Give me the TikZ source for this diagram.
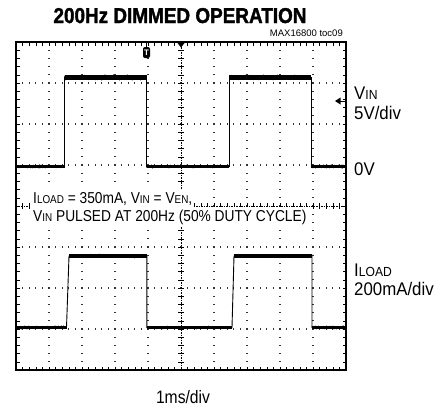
\documentclass[tikz,border=0pt]{standalone}
\usepackage{fontspec}
\setmainfont{Liberation Sans}[FakeStretch=0.87]
\newfontfamily\titlefont{Liberation Sans}[FakeStretch=0.88, BoldFeatures={FakeBold=1.5}]
\newfontfamily\lblfont{Liberation Sans}[FakeStretch=0.92]
\newfontfamily\plainfont{Liberation Sans}
\makeatletter
\newcommand\sm[1]{{\fontsize{\the\dimexpr\f@size pt*72/100\relax}{0pt}\selectfont#1}}
\makeatother
\newcommand\noisyseg[5]{%
  \draw[line width=#4] (#1,#3) -- (#2,#3);
  \draw[line width=0.7] plot[domain=#1:#2, samples=70] (\x,{#3+#5*rand});}
\begin{document}
\begin{tikzpicture}[x=1pt,y=-1pt,
  boxtxt/.style={anchor=base west, fill=white, inner xsep=2pt, inner ysep=2.5pt, font=\fontsize{15.8}{15.8}\selectfont},
  lbl/.style={anchor=base west, inner sep=0pt, align=left, font=\lblfont\fontsize{18.3}{18.3}\selectfont},
  gdot/.style={fill=black!80},
  tick/.style={line width=0.6pt},
  trace/.style={line width=0.9pt}]
\useasboundingbox (0,0) rectangle (439,408);
\pgfmathsetseed{7}
% grid dots
\foreach \i in {1,2,3,4,6,7,8,9} {
  \foreach \j in {1,...,39} {
    \fill[gdot] ({16+33*\i-0.6},{42+8.2*\j-0.6}) rectangle ++(1.2,1.2);
  }
}
\foreach \j in {1,2,3,5,6,7} {
  \foreach \k in {1,...,49} {
    \fill[gdot] ({16+6.6*\k-0.6},{42+41*\j-0.6}) rectangle ++(1.2,1.2);
  }
}
% centre axes
\draw[tick, dash pattern=on 1.5pt off 1pt] (181,42) -- (181,370);
\foreach \j in {1,...,39} \draw[tick] (178,{42+8.2*\j}) -- (184,{42+8.2*\j});
\draw[tick, dash pattern=on 1.5pt off 1pt] (16,206) -- (346,206);
\foreach \k in {1,...,49} \draw[tick] ({16+6.6*\k},203) -- ({16+6.6*\k},209);
% border ticks
\foreach \k in {1,...,49} {
  \draw[tick] ({16+6.6*\k},42) -- ++(0,3.5);
  \draw[tick] ({16+6.6*\k},370) -- ++(0,-3.5);
}
\foreach \j in {1,...,39} {
  \draw[tick] (16,{42+8.2*\j}) -- ++(3.5,0);
  \draw[tick] (346,{42+8.2*\j}) -- ++(-3.5,0);
}
% frame
\draw[line width=2.4pt] (16,42) rectangle (346,370);
% VIN trace
\draw[trace] (17,166) -- (64.5,166) -- (64.5,77) -- (146.7,77) -- (146.7,166) -- (229.3,166) -- (229.3,77) -- (311,77) -- (311,166) -- (345,166);
\noisyseg{17}{64.5}{166.5}{3.8pt}{1.4}
\noisyseg{64.5}{146.7}{77.5}{5.2pt}{2.5}
\noisyseg{146.7}{229.3}{166.5}{3.8pt}{1.4}
\noisyseg{229.3}{311}{77.5}{5.2pt}{2.5}
\noisyseg{311}{345}{166.5}{3.8pt}{1.4}
% ILOAD trace
\draw[trace] (17,327.5) -- (66.5,327.5) -- (69,256) -- (146.8,256) -- (146.8,327.5) -- (232,327.5) -- (234,256) -- (312,256) -- (312,327.5) -- (345,327.5);
\noisyseg{17}{66.5}{327.5}{3.8pt}{1.4}
\noisyseg{69}{146.8}{256}{4.8pt}{1.7}
\noisyseg{146.8}{232}{327.5}{3.8pt}{1.4}
\noisyseg{234}{312}{256}{4.8pt}{1.7}
\noisyseg{312}{345}{327.5}{3.8pt}{1.4}
% markers
\draw[line width=1pt] (146.5,43) -- (146.5,48);
\node[fill=black, rounded corners=2pt, minimum width=7pt, minimum height=11pt, inner sep=0pt, text=white, font=\plainfont\bfseries\fontsize{8}{8}\selectfont] (trig) at (146.5,52.5) {T};
\fill (177.5,43) -- (184.5,43) -- (181,47.5) -- cycle;
\fill (335,101) -- (340.5,97.5) -- (340.5,104.5) -- cycle;
\draw[line width=1pt] (340,101) -- (346,101);
% texts
\node[anchor=base, inner sep=0pt, font=\titlefont\bfseries\fontsize{21.5}{21.5}\selectfont] (title) at (180,23) {200Hz DIMMED OPERATION};
\node[anchor=base east, inner sep=0pt, font=\plainfont\fontsize{9.5}{9.5}\selectfont] (toc) at (343,36) {MAX16800 toc09};
\node[boxtxt] (l1) at (31,203) {I\sm{LOAD} = 350mA, V\sm{IN} = V\sm{EN},};
\node[boxtxt] (l2) at (31,221) {V\sm{IN} PULSED AT 200Hz (50\% DUTY CYCLE)};
\node[lbl] (vin) at (354,119.5) {V\sm{IN}\\[1.5pt]5V/div};
\node[lbl] (zero) at (354,175) {0V};
\node[lbl] (iload) at (354,295) {I\sm{LOAD}\\200mA/div};
\node[lbl, anchor=base, font=\fontsize{18}{18}\selectfont] (tdiv) at (183,403) {1ms/div};
\end{tikzpicture}
\end{document}
